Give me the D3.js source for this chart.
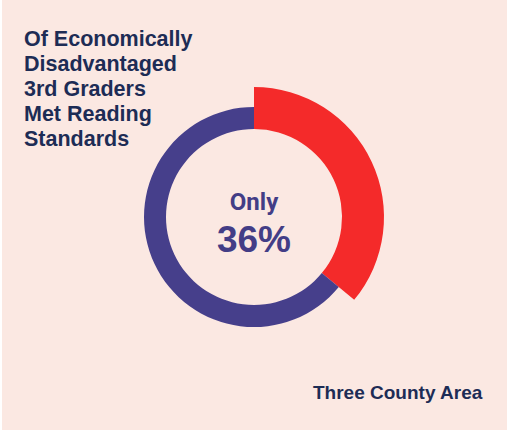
<!DOCTYPE html>
<html>
<head>
<meta charset="utf-8">
<script src="https://cdn.jsdelivr.net/npm/d3@7/dist/d3.min.js"></script>
<style>
  html, body { margin: 0; padding: 0; background: #ffffff; }
  svg { display: block; }
</style>
</head>
<body>
<script>
// Data
const categories = ["Met Reading Standards", "Did Not Meet"];
const values = [36, 64];
const titleLines = ["Of Economically", "Disadvantaged", "3rd Graders", "Met Reading", "Standards"];
const centerLabel = "Only";
const centerValue = "36%";
const footnote = "Three County Area";

const W = 507, H = 430;
const svg = d3.select("body").append("svg").attr("width", W).attr("height", H);

svg.append("rect").attr("x", 2).attr("y", 0).attr("width", W - 2).attr("height", H).attr("fill", "#fbe8e2");

const cx = 254, cy = 217;
const colors = d3.scaleOrdinal().domain(categories).range(["#f42a2a", "#463f8b"]);

const pie = d3.pie().sort(null).value(d => d.value);
const arcs = pie(categories.map((c, i) => ({ cat: c, value: values[i] })));

const arcBig = d3.arc().innerRadius(88).outerRadius(130);
const arcSmall = d3.arc().innerRadius(88).outerRadius(110);

const g = svg.append("g").attr("transform", `translate(${cx},${cy})`);
g.selectAll("path").data(arcs).join("path")
  .attr("d", (d, i) => i === 0 ? arcBig(d) : arcSmall(d))
  .attr("fill", d => colors(d.data.cat));

// Title
const title = svg.append("text")
  .attr("font-family", "Liberation Sans, Arial, sans-serif")
  .attr("font-weight", "bold")
  .attr("font-size", 21.5)
  .attr("fill", "#1d2c55");
title.selectAll("tspan").data(titleLines).join("tspan")
  .attr("x", 24).attr("y", (d, i) => 46 + i * 25).text(d => d);

g.append("text")
  .attr("text-anchor", "middle").attr("y", -7)
  .attr("font-family", "Roboto, Liberation Sans, sans-serif")
  .attr("font-weight", "bold").attr("font-size", 24)
  .attr("fill", "#433d86").text(centerLabel);

g.append("text")
  .attr("text-anchor", "middle").attr("y", 35)
  .attr("font-family", "Liberation Sans, Arial, sans-serif")
  .attr("font-weight", "bold").attr("font-size", 37)
  .attr("fill", "#433d86").text(centerValue);

svg.append("text")
  .attr("x", 313).attr("y", 399)
  .attr("font-family", "Liberation Sans, Arial, sans-serif")
  .attr("font-weight", "bold").attr("font-size", 19)
  .attr("fill", "#1d2c55").text(footnote);
</script>
</body>
</html>
